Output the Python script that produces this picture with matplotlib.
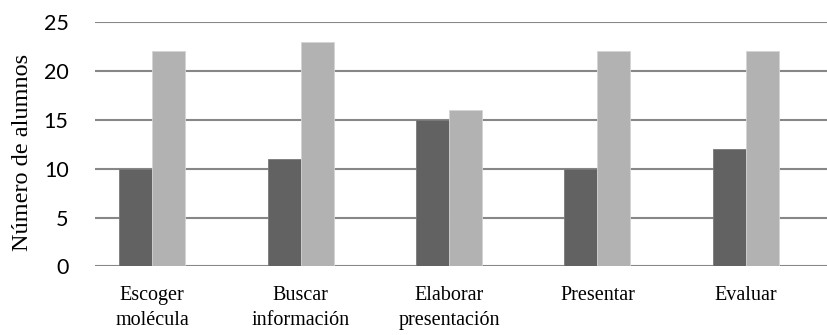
import numpy as np
import matplotlib
matplotlib.use("Agg")
import matplotlib.pyplot as plt

categorias = ["Escoger\nmolécula", "Buscar\ninformación", "Elaborar\npresentación",
              "Presentar", "Evaluar"]
serie_1 = [10, 11, 15, 10, 12]
serie_2 = [22, 23, 16, 22, 22]
y_ticks = [0, 5, 10, 15, 20, 25]

fig = plt.figure(figsize=(8.27, 3.35), dpi=100)
ax = fig.add_axes([0.1149, 0.2045, 0.885, 0.7295])

x = np.arange(len(categorias))
w = 0.2226
ax.bar(x - w / 2, serie_1, width=w, color="#626262", edgecolor="#7a7a7a",
       linewidth=0.6, zorder=3)
ax.bar(x + w / 2, serie_2, width=w, color="#b2b2b2", edgecolor="#d4d4d4",
       linewidth=0.6, zorder=3)

ax.set_ylim(0, 25)
ax.set_xlim(-0.385, 4.546)
ax.set_yticks(y_ticks)
ax.yaxis.grid(True, color="#878787", linewidth=1.5, zorder=0)
ax.set_axisbelow(True)
for s in ax.spines.values():
    s.set_visible(False)

ax.set_xticks(x)
ax.set_xticklabels(categorias, fontfamily="Liberation Serif", fontsize=14.5,
                   linespacing=1.45)
ax.tick_params(axis="x", length=0, pad=14)
ax.tick_params(axis="y", length=0, pad=19, labelsize=15.5)
for lab in ax.get_yticklabels():
    lab.set_fontfamily("Lato")

ax.set_ylabel("Número de alumnos", fontfamily="Liberation Serif", fontsize=17.5)
ax.yaxis.set_label_coords(-0.085, 0.465)

fig.savefig("out.png", dpi=100)
